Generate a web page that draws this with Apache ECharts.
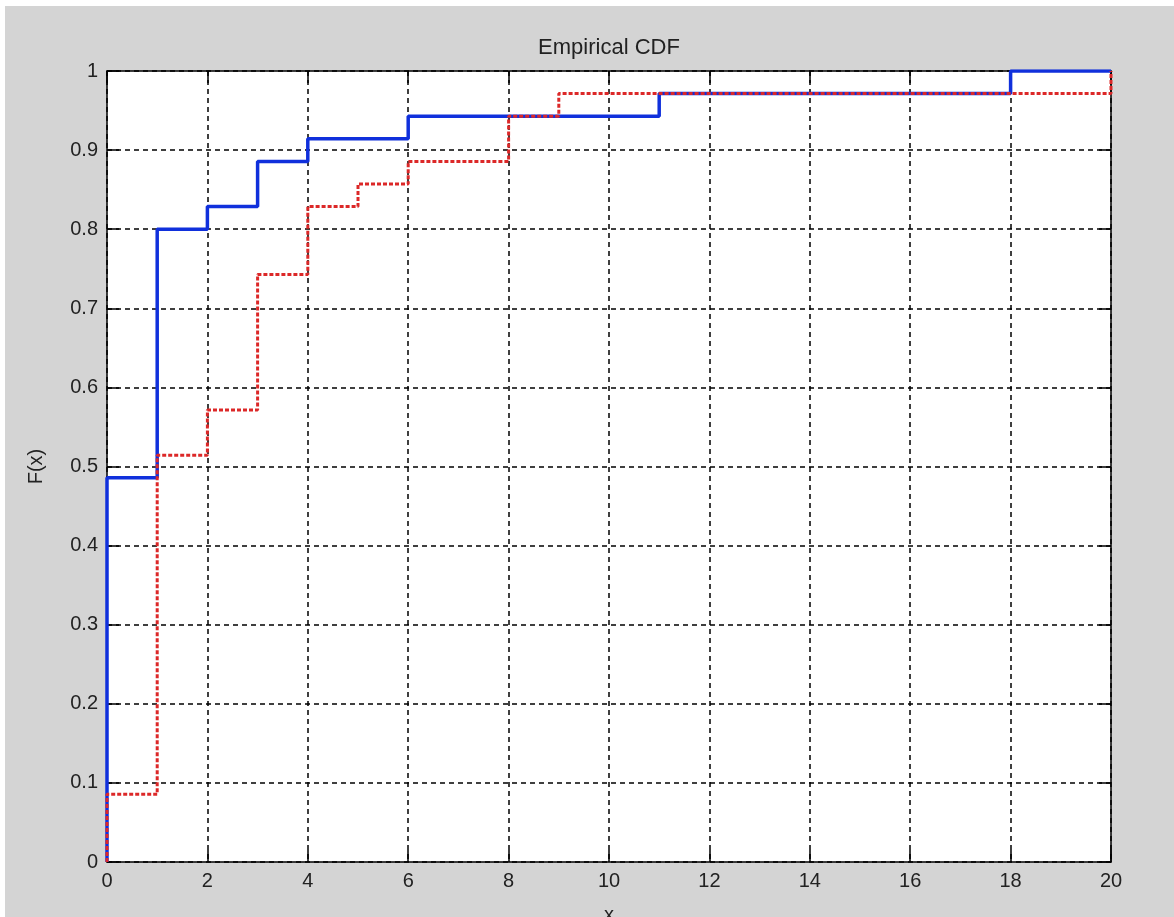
<!DOCTYPE html>
<html>
<head>
<meta charset="utf-8">
<title>Empirical CDF</title>
<script src="https://cdn.jsdelivr.net/npm/echarts@6/dist/echarts.min.js"></script>
<style>
  html, body { margin: 0; padding: 0; background: #ffffff; overflow: hidden; }
  #chart { position: absolute; left: 5px; top: 6px; width: 1169px; height: 911px; background: #d4d4d4; }
</style>
</head>
<body>
<div id="chart"></div>
<script>
// Sample size of both samples (35 observations each)
const sampleSize = 35;

// Blue sample: x positions where the CDF jumps, and cumulative counts after each jump
const blueJumpX = [0, 1, 2, 3, 4, 6, 11, 18];
const blueCounts = [17, 28, 29, 31, 32, 33, 34, 35];

// Red sample: x positions where the CDF jumps, and cumulative counts after each jump
const redJumpX = [0, 1, 2, 3, 4, 5, 6, 8, 9, 20];
const redCounts = [3, 18, 20, 26, 29, 30, 31, 33, 34, 35];

// Axis ranges and tick labels
const xTicks = [0, 2, 4, 6, 8, 10, 12, 14, 16, 18, 20];
const yTicks = ['0', '0.1', '0.2', '0.3', '0.4', '0.5', '0.6', '0.7', '0.8', '0.9', '1'];

const xMin = xTicks[0], xMax = xTicks[xTicks.length - 1];

// Build the staircase vertices of an empirical CDF from its jumps
function stairs(jumpX, counts) {
  const pts = [[jumpX[0], 0]];
  for (let i = 0; i < jumpX.length; i++) {
    const prev = i === 0 ? 0 : counts[i - 1] / sampleSize;
    const cur = counts[i] / sampleSize;
    if (i > 0) pts.push([jumpX[i], prev]);
    pts.push([jumpX[i], cur]);
  }
  const last = pts[pts.length - 1];
  if (last[0] < xMax) pts.push([xMax, last[1]]);
  return pts;
}

const chart = echarts.init(document.getElementById('chart'), null, { renderer: 'canvas' });

const labelFont = { fontFamily: 'Liberation Sans, Arial, sans-serif', fontSize: 20, color: '#222' };
const frameLine = { show: true, onZero: false, lineStyle: { color: '#000', width: 1.5 } };
const innerTick = { show: true, inside: true, length: 12, lineStyle: { color: '#000', width: 1.5 } };
const gridDash = { show: true, lineStyle: { color: '#000', width: 1.5, type: [5, 4] } };

chart.setOption({
  animation: false,
  title: {
    text: 'Empirical CDF',
    left: 599,
    top: 26,
    textAlign: 'center',
    textStyle: { fontFamily: 'Liberation Sans, Arial, sans-serif', fontSize: 22, fontWeight: 'normal', color: '#222' }
  },
  grid: {
    left: 102, top: 65, width: 1004, height: 791,
    outerBoundsMode: 'none',
    containLabel: false,
    show: true, backgroundColor: '#ffffff', borderWidth: 0
  },
  xAxis: [
    {
      type: 'value', min: xMin, max: xMax, interval: 2, position: 'bottom',
      name: 'x', nameLocation: 'middle', nameGap: 43,
      nameTextStyle: labelFont,
      axisLine: frameLine, axisTick: innerTick,
      axisLabel: Object.assign({ margin: 9 }, labelFont),
      splitLine: gridDash
    },
    {
      type: 'value', min: xMin, max: xMax, interval: 2, position: 'top',
      axisLine: frameLine, axisTick: innerTick,
      axisLabel: { show: false }, splitLine: { show: false }
    }
  ],
  yAxis: [
    {
      type: 'value', min: 0, max: 1, interval: 0.1, position: 'left',
      name: 'F(x)', nameLocation: 'middle', nameGap: 61,
      nameTextStyle: labelFont,
      axisLine: frameLine, axisTick: innerTick,
      axisLabel: Object.assign({ margin: 9, formatter: (v) => yTicks[Math.round(v * 10)] }, labelFont),
      splitLine: gridDash
    },
    {
      type: 'value', min: 0, max: 1, interval: 0.1, position: 'right',
      axisLine: frameLine, axisTick: innerTick,
      axisLabel: { show: false }, splitLine: { show: false }
    }
  ],
  series: [
    {
      name: 'sample 1',
      type: 'line',
      xAxisIndex: 0, yAxisIndex: 0,
      data: stairs(blueJumpX, blueCounts),
      showSymbol: false,
      lineStyle: { color: '#1030dc', width: 3.5, type: 'solid' },
      z: 3
    },
    {
      name: 'sample 2',
      type: 'line',
      xAxisIndex: 0, yAxisIndex: 0,
      data: stairs(redJumpX, redCounts),
      showSymbol: false,
      lineStyle: { color: '#dc2828', width: 3, type: [4, 2] },
      z: 4
    }
  ]
});
</script>
</body>
</html>
